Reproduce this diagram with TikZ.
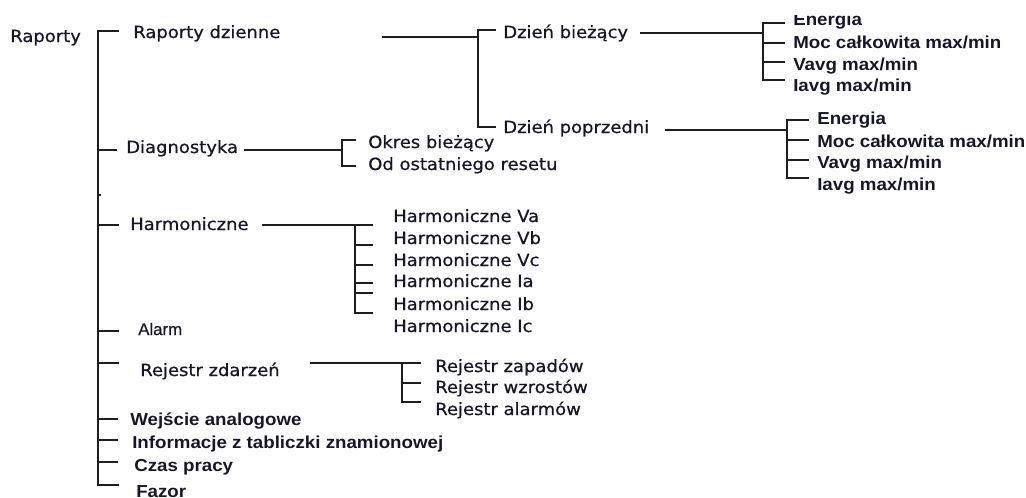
\documentclass[tikz,border=0pt]{standalone}
\usepackage{fontspec}
\newfontfamily\vfont{DejaVu Sans}[FakeStretch=1.07,FakeBold=0.7]
\newfontfamily\afont{Liberation Sans Bold}[FakeStretch=1.08]
\newfontfamily\nfont{Liberation Sans}[FakeBold=0.5]
\definecolor{ink}{HTML}{16162A}
\definecolor{wirecol}{HTML}{1E1E1E}
\begin{document}
\begin{tikzpicture}[x=0.75pt,y=-0.75pt,
  lbl/.style={anchor=base west, inner sep=0pt, text=ink},
  v/.style={lbl, font={\vfont\fontsize{12.6}{14}\selectfont}},
  a/.style={lbl, font={\afont\fontsize{13}{15}\selectfont}},
  nrw/.style={lbl, font={\nfont\fontsize{12.6}{14}\selectfont}},
  wire/.style={draw=wirecol, line width=1.5pt}]
\useasboundingbox (0,0) rectangle (1026,497);
\clip (0,0) rectangle (1026,497);

% ---- labels, level 0 and 1 ----
\node[v] (root)  at (10,42)  {Raporty};
\node[v] (rd)    at (133,38) {Raporty dzienne};
\node[v] (diag)  at (126,153) {Diagnostyka};
\node[v] (harm)  at (130,230) {Harmoniczne};
\node[nrw] (alarm) at (138,335) {Alarm};
\node[v] (rej)   at (140,376) {Rejestr zdarzeń};
\node[a] (wej)   at (130,425) {Wejście analogowe};
\node[a] (info)  at (132,448) {Informacje z tabliczki znamionowej};
\node[a] (czas)  at (134,471) {Czas pracy};
\node[a] (fazor) at (136,497) {Fazor};

% ---- daily reports ----
\node[v] (dbiez) at (503,38)  {Dzień bieżący};
\node[v] (dpop)  at (503,133) {Dzień poprzedni};
\begin{scope}
  \clip (780,15) rectangle (900,40);
  \node[a] (en1) at (793,25) {Energia};
\end{scope}
\node[a] (moc1) at (793,48) {Moc całkowita max/min};
\node[a] (va1)  at (793,70) {Vavg max/min};
\node[a] (ia1)  at (793,91) {Iavg max/min};
\node[a] (en2)  at (817,124) {Energia};
\node[a] (moc2) at (817,147) {Moc całkowita max/min};
\node[a] (va2)  at (817,168) {Vavg max/min};
\node[a] (ia2)  at (817,190) {Iavg max/min};

% ---- diagnostics ----
\node[v] (okres) at (368,148) {Okres bieżący};
\node[v] (odost) at (368,170) {Od ostatniego resetu};

% ---- harmonics ----
\node[v] (hva) at (393,222) {Harmoniczne Va};
\node[v] (hvb) at (393,244) {Harmoniczne Vb};
\node[v] (hvc) at (393,266) {Harmoniczne Vc};
\node[v] (hia) at (393,287) {Harmoniczne Ia};
\node[v] (hib) at (393,310) {Harmoniczne Ib};
\node[v] (hic) at (393,332) {Harmoniczne Ic};

% ---- event log ----
\node[v] (zap) at (435,372) {Rejestr zapadów};
\node[v] (wzr) at (435,393) {Rejestr wzrostów};
\node[v] (alr) at (435,415) {Rejestr alarmów};

% ---- main spine ----
\coordinate (spine) at (98,0);
\coordinate (rd-in)    at (119,31);
\coordinate (diag-in)  at (117,150);
\coordinate (mark)     at (101,195);
\coordinate (harm-in)  at (119,225);
\coordinate (alarm-in) at (119,331);
\coordinate (rej-in)   at (119,363);
\coordinate (wej-in)   at (118,419);
\coordinate (info-in)  at (118,440);
\coordinate (czas-in)  at (118,462);
\coordinate (fazor-in) at (119,485);
\draw[wire] (rd-in) -- (spine |- rd-in) -- (spine |- fazor-in) -- (fazor-in);
\foreach \c in {diag-in,mark,harm-in,alarm-in,rej-in,wej-in,info-in,czas-in}
  \draw[wire] (spine |- \c) -- (\c);

% ---- Raporty dzienne branch ----
\coordinate (rd-out) at (382,37);
\coordinate (rd-j)   at (478,37);
\coordinate (dbiez-in) at (496,30);
\coordinate (dpop-in)  at (496,127);
\draw[wire] (rd-out) -- (rd-j);
\draw[wire] (dbiez-in) -- (rd-j |- dbiez-in) -- (rd-j |- dpop-in) -- (dpop-in);

% ---- Dzień bieżący branch ----
\coordinate (db-out) at (640,33);
\coordinate (db-j)   at (763,33);
\coordinate (en1-in)  at (785,23);
\coordinate (moc1-in) at (785,43);
\coordinate (va1-in)  at (785,62);
\coordinate (ia1-in)  at (785,80);
\draw[wire] (db-out) -- (db-j);
\draw[wire] (en1-in) -- (db-j |- en1-in) -- (db-j |- ia1-in) -- (ia1-in);
\foreach \c in {moc1-in,va1-in} \draw[wire] (db-j |- \c) -- (\c);

% ---- Dzień poprzedni branch ----
\coordinate (dp-out) at (665,130);
\coordinate (dp-j)   at (787,130);
\coordinate (en2-in)  at (809,120);
\coordinate (moc2-in) at (809,140);
\coordinate (va2-in)  at (809,160);
\coordinate (ia2-in)  at (809,178);
\draw[wire] (dp-out) -- (dp-j);
\draw[wire] (en2-in) -- (dp-j |- en2-in) -- (dp-j |- ia2-in) -- (ia2-in);
\foreach \c in {moc2-in,va2-in} \draw[wire] (dp-j |- \c) -- (\c);

% ---- Diagnostyka branch ----
\coordinate (dg-out) at (244,150);
\coordinate (dg-j)   at (342,150);
\coordinate (okres-in) at (356,140);
\coordinate (odost-in) at (356,166);
\draw[wire] (dg-out) -- (dg-j);
\draw[wire] (okres-in) -- (dg-j |- okres-in) -- (dg-j |- odost-in) -- (odost-in);

% ---- Harmoniczne branch ----
\coordinate (hm-out) at (262,225);
\coordinate (hm-j)   at (355,225);
\coordinate (hva-in) at (373,225);
\coordinate (hvb-in) at (373,245);
\coordinate (hvc-in) at (373,265);
\coordinate (hia-in) at (373,283);
\coordinate (hib-in) at (373,293);
\coordinate (hic-in) at (373,313);
\draw[wire] (hm-out) -- (hva-in);
\draw[wire] (hm-j) -- (hm-j |- hic-in) -- (hic-in);
\foreach \c in {hvb-in,hvc-in,hia-in,hib-in} \draw[wire] (hm-j |- \c) -- (\c);

% ---- Rejestr zdarzeń branch ----
\coordinate (rz-out) at (310,363);
\coordinate (rz-j)   at (402,363);
\coordinate (zap-in) at (421,363);
\coordinate (wzr-in) at (421,383);
\coordinate (alr-in) at (421,402);
\draw[wire] (rz-out) -- (zap-in);
\draw[wire] (rz-j) -- (rz-j |- alr-in) -- (alr-in);
\draw[wire] (rz-j |- wzr-in) -- (wzr-in);
\end{tikzpicture}
\end{document}
